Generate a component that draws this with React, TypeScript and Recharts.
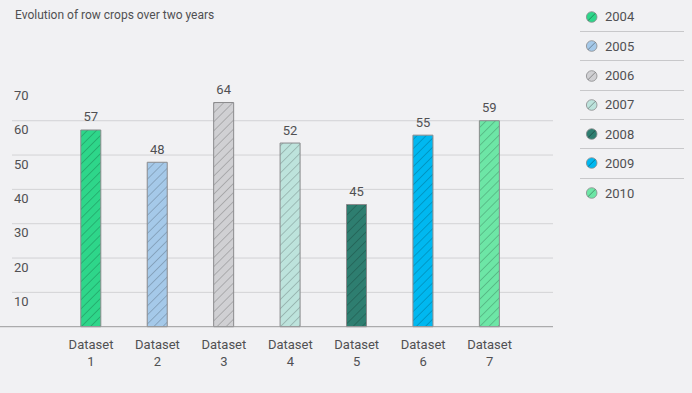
import React from 'react';
import { BarChart, Bar, XAxis, YAxis, CartesianGrid, Cell, LabelList } from 'recharts';

// --- data ---
const categories = ['Dataset 1', 'Dataset 2', 'Dataset 3', 'Dataset 4', 'Dataset 5', 'Dataset 6', 'Dataset 7'];
const years = ['2004', '2005', '2006', '2007', '2008', '2009', '2010'];
// bar heights as drawn
const barValues = [57.3, 47.9, 65.3, 53.5, 35.6, 55.8, 60];
// printed labels above bars
const valueLabels = [57, 48, 64, 52, 45, 55, 59];
const colors = ['#2ed68a', '#a5c9e9', '#d0d0d3', '#bde3dc', '#2e7e70', '#00b8f0', '#6de6a6'];
const yTicks = [10, 20, 30, 40, 50, 60, 70];
const gridValues = [10, 20, 30, 40, 50, 60];

const data = categories.map((name, i) => ({
  name,
  year: years[i],
  value: barValues[i],
  label: valueLabels[i],
}));

const FONT = 'Roboto, "Noto Sans", sans-serif';
const TEXT = '#505052';

const XTick = ({ x, y, payload }: any) => {
  const [word, num] = String(payload.value).split(' ');
  return (
    <text x={x} y={y} textAnchor="middle" fill={TEXT} fontSize={13} fontFamily={FONT}>
      <tspan x={x} dy={22}>{word}</tspan>
      <tspan x={x} dy={17.5}>{num}</tspan>
    </text>
  );
};

const YTick = ({ y, payload }: any) => (
  <text x={14} y={y + 9} dominantBaseline="central" fill={TEXT} fontSize={13} fontFamily={FONT}>
    {payload.value}
  </text>
);

const TopLabel = (props: any) => {
  const { x, y, width, index } = props;
  return (
    <text x={x + width / 2} y={y - 13} textAnchor="middle" dominantBaseline="central" fill={TEXT} fontSize={13} fontFamily={FONT}>
      {valueLabels[index]}
    </text>
  );
};

const YearLegend = () => (
  <div style={{ position: 'absolute', left: 580, top: 2.7, width: 104, fontFamily: FONT }}>
    {years.map((yr, i) => (
      <div
        key={yr}
        style={{
          height: 29.33,
          boxSizing: 'border-box',
          display: 'flex',
          alignItems: 'center',
          borderBottom: i < years.length - 1 ? '1px solid #c8c8ca' : 'none',
        }}
      >
        <svg width={24} height={14} style={{ display: 'block' }}>
          <circle cx={11.7} cy={7} r={5.3} fill={colors[i]} stroke="#8a8a8c" strokeWidth={0.8} />
          <line x1={8} y1={10.7} x2={15.4} y2={3.3} stroke="rgba(0,0,0,0.35)" strokeWidth={1} />
        </svg>
        <span style={{ fontSize: 13, color: TEXT, marginLeft: 1 }}>{yr}</span>
      </div>
    ))}
  </div>
);

export default function App() {
  return (
    <div style={{ position: 'absolute', left: 0, top: 0, width: 692, height: 393, background: '#f1f1f3', overflow: 'hidden' }}>
      <div style={{ position: 'absolute', left: 15, top: 8, fontSize: 12, color: TEXT, fontFamily: FONT }}>
        Evolution of row crops over two years
      </div>
      <BarChart
        width={692}
        height={393}
        data={data}
        margin={{ top: 86.4, right: 139, bottom: 36.3, left: -1 }}
      >
        <defs>
          {colors.map((c, i) => (
            <pattern
              key={c}
              id={`hatch-${i}`}
              patternUnits="userSpaceOnUse"
              width={6.4}
              height={6.4}
              patternTransform="rotate(45)"
            >
              <rect width={6.4} height={6.4} fill={c} />
              <line x1={0} y1={0} x2={0} y2={6.4} stroke="rgba(0,0,0,0.35)" strokeWidth={1} />
            </pattern>
          ))}
        </defs>
        <CartesianGrid
          x={12}
          width={541}
          vertical={false}
          horizontalValues={gridValues}
          stroke="#d3d3d5"
        />
        <XAxis
          dataKey="name"
          interval={0}
          height={30}
          padding={{ left: 57.8, right: 30.2 }}
          axisLine={{ stroke: '#9a9a9c' }}
          tickLine={false}
          tickSize={0}
          tickMargin={0}
          tick={<XTick />}
        />
        <YAxis
          width={1}
          domain={[0, 70]}
          ticks={yTicks}
          interval={0}
          axisLine={false}
          tickLine={false}
          tick={<YTick />}
        />
        <Bar dataKey="value" barSize={20} stroke="#8a8a8c" strokeWidth={1} isAnimationActive={false}>
          {data.map((d, i) => (
            <Cell key={d.name} fill={`url(#hatch-${i})`} />
          ))}
          <LabelList dataKey="label" content={<TopLabel />} />
        </Bar>
      </BarChart>
      <YearLegend />
    </div>
  );
}
